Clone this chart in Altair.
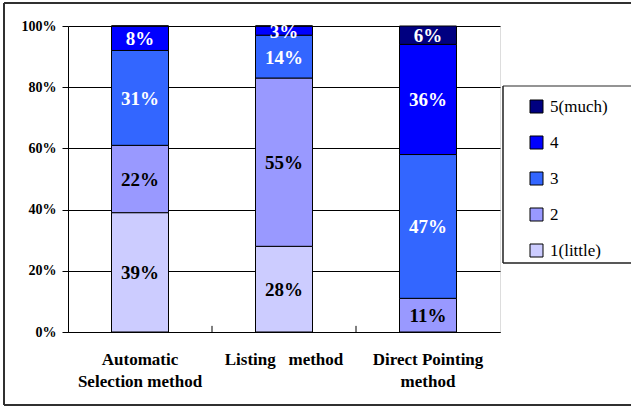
import altair as alt
import pandas as pd

methods = ["Automatic|Selection method", "Listing\u00a0\u00a0\u00a0method", "Direct Pointing|method"]
levels = ["1(little)", "2", "3", "4", "5(much)"]
level_order = [1, 2, 3, 4, 5]
colors = {"5(much)": "#000080", "4": "#0000FF", "3": "#3366FF", "2": "#9999FF", "1(little)": "#CCCCFF"}
label_colors = {"5(much)": "white", "4": "white", "3": "white", "2": "black", "1(little)": "black"}

values = {
    methods[0]: [39, 22, 31, 8, 0],
    methods[1]: [28, 55, 14, 3, 0],
    methods[2]: [0, 11, 47, 36, 6],
}

rows = []
for m in methods:
    for lv, o, v in zip(levels, level_order, values[m]):
        rows.append({"method": m, "level": lv, "order": o, "value": v,
                     "tcolor": label_colors[lv]})
df = pd.DataFrame(rows)

legend_domain = ["5(much)", "4", "3", "2", "1(little)"]
legend_range = [colors[k] for k in legend_domain]

FONT = "Liberation Serif"

xenc = alt.X("method:N", sort=methods, title=None,
             scale=alt.Scale(paddingInner=0, paddingOuter=0),
             axis=alt.Axis(labelExpr="split(datum.label, '|')", labelAngle=0,
                           labelFont=FONT, labelFontWeight="bold", labelFontSize=17,
                           labelLineHeight=22, labelPadding=19, ticks=False,
                           domainColor="black", labelColor="black"))

yscale = alt.Scale(domain=[0, 100], nice=False)

base = alt.Chart(df).transform_stack(
    stack="value", groupby=["method"], sort=[alt.SortField("order", order="ascending")],
    as_=["y0", "y1"]
).transform_calculate(mid="(datum.y0 + datum.y1) / 2")

bars = base.mark_bar(size=57, stroke="black", strokeWidth=1).encode(
    x=xenc,
    y=alt.Y("y0:Q", scale=yscale, title=None,
            axis=alt.Axis(values=[0, 20, 40, 60, 80, 100], labelExpr="datum.value + '%'",
                          labelFont=FONT, labelFontWeight="bold", labelFontSize=14,
                          tickSize=6, labelPadding=6, tickColor="black", domainColor="black",
                          gridColor="black", gridOpacity=1, grid=True, labelColor="black")),
    y2="y1:Q",
    color=alt.Color("level:N", scale=alt.Scale(domain=legend_domain, range=legend_range),
                    legend=alt.Legend(title=None, orient="none", legendX=460, legendY=72,
                                      symbolType="square", symbolSize=169,
                                      symbolStrokeColor="black", symbolStrokeWidth=1,
                                      symbolOpacity=1,
                                      labelFont=FONT, labelFontSize=17, labelOffset=5,
                                      labelColor="black", rowPadding=18, padding=0)),
)

texts = base.transform_filter("datum.value > 0").mark_text(
    font=FONT, fontWeight="bold", fontSize=19, baseline="middle", align="center", dy=1
).encode(
    x=alt.X("method:N", sort=methods),
    y=alt.Y("mid:Q", scale=yscale),
    text=alt.Text("label:N"),
    color=alt.Color("tcolor:N", scale=None, legend=None),
).transform_calculate(label="datum.value + '%'")

boundary = pd.DataFrame({"method": methods[1:]})
ticks = alt.Chart(boundary).mark_rule(color="black", strokeWidth=1).encode(
    x=alt.X("method:N", sort=methods, bandPosition=0),
    y=alt.Y(datum=0, scale=yscale),
    y2=alt.Y2(datum=2),
)

one = pd.DataFrame({"k": [0]})
legend_fill = alt.Chart(one).mark_rect(fill="white", strokeWidth=0).encode(
    x=alt.value(435), x2=alt.value(563), y=alt.value(60), y2=alt.value(237)
)
legend_top = alt.Chart(one).mark_rule(color="#707070", strokeWidth=1.5).encode(
    x=alt.value(435), x2=alt.value(563), y=alt.value(60)
)
legend_left = alt.Chart(one).mark_rule(color="#202020", strokeWidth=1.5).encode(
    x=alt.value(435), y=alt.value(60), y2=alt.value(237)
)
legend_bottom = alt.Chart(one).mark_rule(color="#202020", strokeWidth=1.5).encode(
    x=alt.value(435), x2=alt.value(563), y=alt.value(237)
)

outer_top = alt.Chart(one).mark_rule(color="#303030", strokeWidth=2).encode(
    x=alt.value(-64), x2=alt.value(563), y=alt.value(-23)
)
outer_left = alt.Chart(one).mark_rule(color="#303030", strokeWidth=2).encode(
    x=alt.value(-64), y=alt.value(-23), y2=alt.value(379)
)
outer_bottom = alt.Chart(one).mark_rule(color="#303030", strokeWidth=2).encode(
    x=alt.value(-64), x2=alt.value(563), y=alt.value(379)
)

chart = alt.layer(outer_top, outer_left, outer_bottom, legend_fill, legend_top, legend_left,
                  legend_bottom, bars, texts, ticks).resolve_scale(color="independent").properties(
    width=432, height=306,
    padding={"left": 68, "top": 26, "right": 131, "bottom": 78},
    autosize=alt.AutoSizeParams(type="none"),
).configure_view(stroke="#808080", strokeWidth=1).configure(background="white").configure_legend(
    labelFont=FONT, labelFontSize=17, labelColor="black"
)

chart.save("out.html", embed_options={"renderer": "svg", "actions": False})
